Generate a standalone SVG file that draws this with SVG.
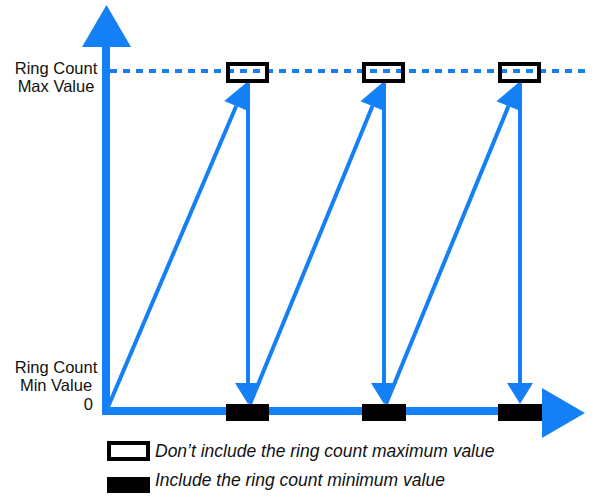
<svg xmlns="http://www.w3.org/2000/svg" width="595" height="503" viewBox="0 0 595 503">
  <style>
    .axis { stroke: #1580f5; stroke-width: 8; fill: none; }
    .arrow { stroke: #1580f5; stroke-width: 4; fill: none; }
    .dash { stroke: #1580f5; stroke-width: 4; stroke-dasharray: 7 6; fill: none; }
    .head { fill: #1580f5; }
    .maxbox { fill: none; stroke: #000; stroke-width: 4; }
    .minbox { fill: #000; }
    .lbl { font-family: "Liberation Sans", Arial, Helvetica, sans-serif; font-size: 16.5px; fill: #111; }
    .leg { font-family: "Liberation Sans", Arial, Helvetica, sans-serif; font-size: 17.5px; font-style: italic; fill: #111; }
  </style>
  <defs>
    <marker id="mDown" markerUnits="userSpaceOnUse" markerWidth="22" markerHeight="26" refX="0" refY="13" orient="auto" overflow="visible">
      <path class="head" d="M0,0 L21,13 L0,26 Z"/>
    </marker>
    <marker id="mDiag" markerUnits="userSpaceOnUse" markerWidth="26" markerHeight="26" refX="0" refY="13" orient="auto" overflow="visible">
      <path class="head" d="M0,0 L25,13 L0,26 Z"/>
    </marker>
  </defs>

  <g id="connectors">
    <!-- axes -->
    <line class="axis" x1="106" y1="45" x2="106" y2="415"/>
    <polygon class="head" points="106.5,5 131,47 82,47"/>
    <line class="axis" x1="102" y1="411" x2="545" y2="411"/>
    <polygon class="head" points="585,413 542,388 542,438"/>
    <!-- max value dashed line -->
    <line class="dash" x1="110" y1="71" x2="586" y2="71"/>
    <!-- rising diagonals -->
    <line class="arrow" x1="108" y1="407" x2="236.2" y2="106" marker-end="url(#mDiag)"/>
    <line class="arrow" x1="250" y1="404" x2="372.5" y2="106.1" marker-end="url(#mDiag)"/>
    <line class="arrow" x1="386" y1="404" x2="508.5" y2="106.1" marker-end="url(#mDiag)"/>
    <!-- drops -->
    <line class="arrow" x1="248" y1="83" x2="248" y2="383" marker-end="url(#mDown)"/>
    <line class="arrow" x1="384" y1="83" x2="384" y2="383" marker-end="url(#mDown)"/>
    <line class="arrow" x1="520" y1="83" x2="520" y2="383" marker-end="url(#mDown)"/>
  </g>

  <g id="max1"><rect class="maxbox" x="228" y="64" width="39" height="17"/></g>
  <g id="max2"><rect class="maxbox" x="364" y="64" width="39" height="17"/></g>
  <g id="max3"><rect class="maxbox" x="500" y="64" width="39" height="17"/></g>

  <g id="min1"><rect class="minbox" x="226" y="404" width="43" height="17"/></g>
  <g id="min2"><rect class="minbox" x="362" y="404" width="44" height="17"/></g>
  <g id="min3"><rect class="minbox" x="498" y="404" width="44" height="17"/></g>

  <g id="label-max">
    <text class="lbl" x="56" y="74" text-anchor="middle">Ring Count</text>
    <text class="lbl" x="56" y="92" text-anchor="middle">Max Value</text>
  </g>
  <g id="label-min">
    <text class="lbl" x="56" y="373" text-anchor="middle">Ring Count</text>
    <text class="lbl" x="56" y="391" text-anchor="middle">Min Value</text>
  </g>
  <g id="label-zero">
    <text class="lbl" x="93" y="410" text-anchor="end">0</text>
  </g>

  <g id="legend-max">
    <rect class="maxbox" x="109" y="443" width="39" height="16"/>
    <text class="leg" x="155" y="457">Don’t include the ring count maximum value</text>
  </g>
  <g id="legend-min">
    <rect class="minbox" x="107" y="477" width="43" height="16"/>
    <text class="leg" x="155" y="486">Include the ring count minimum value</text>
  </g>
</svg>
